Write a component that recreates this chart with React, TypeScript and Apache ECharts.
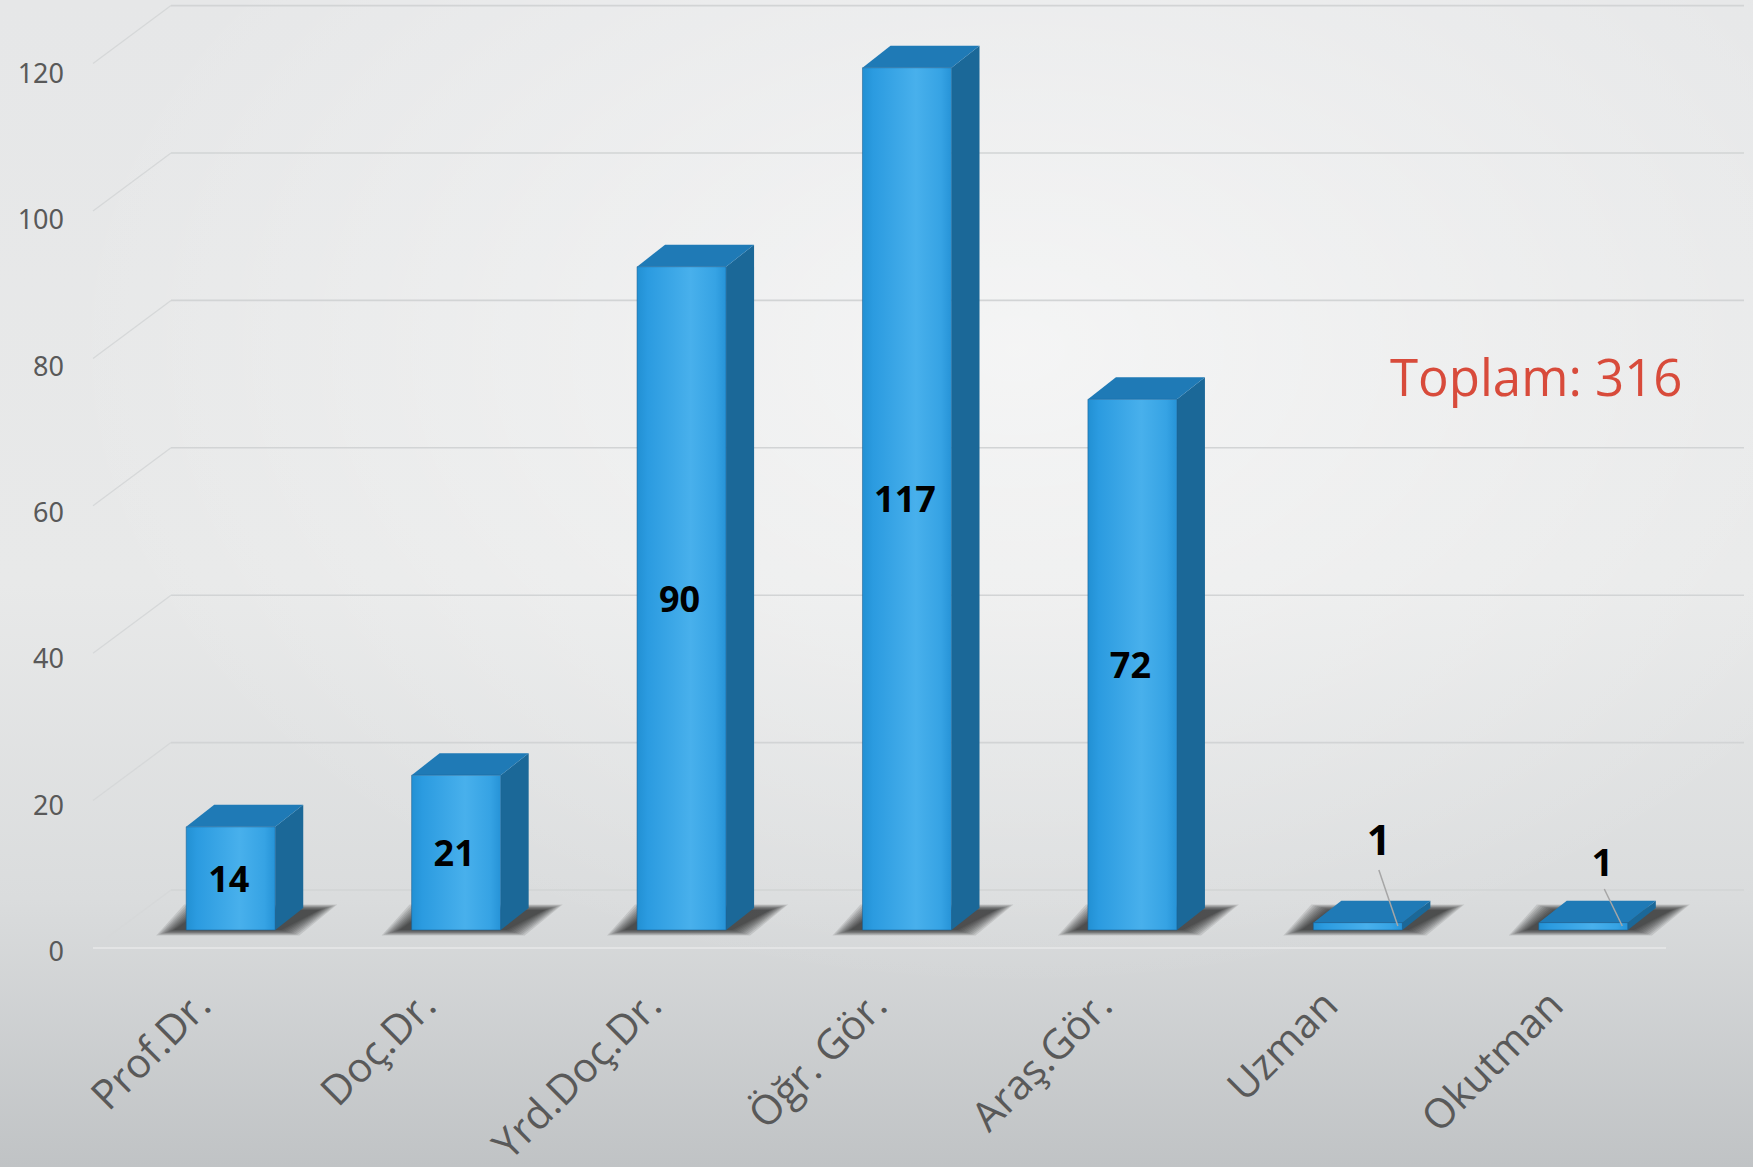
import React, { useEffect, useRef } from "react";
import * as echarts from "echarts";

const categories = ["Prof.Dr.", "Doç.Dr.", "Yrd.Doç.Dr.", "Öğr. Gör.", "Araş.Gör.", "Uzman", "Okutman"];
const values = [14, 21, 90, 117, 72, 1, 1];
const yTicks = [0, 20, 40, 60, 80, 100, 120];
const totalText = `Toplam: ${values.reduce((a, b) => a + b, 0)}`;

// styling for labels of very small bars (moved above with a leader line)
const leaderLabels: Record<string, { dx: number; dy: number; from: [number, number]; to: [number, number]; size: number }> = {
  Uzman: { dx: 21, dy: -92, from: [21, -60], to: [40, -4], size: 42 },
  Okutman: { dx: 19, dy: -69, from: [21, -41], to: [39, -4], size: 38 },
};

const DX = 28;
const DY = 22;

function renderBar(params: any, api: any) {
  const i = params.dataIndex;
  const v = api.value(1);
  const top = api.coord([i, v]);
  const base = api.coord([i, 0]);
  const band = api.size([1, 0])[0];
  const w = band * 0.395;
  const cx = base[0];
  const x0 = cx - w / 2;
  const x1 = cx + w / 2;
  const yb = base[1];
  const yt = top[1];
  const children: any[] = [];
  for (let k = 9; k >= 0; k--) {
    const e = k * 2;
    const ev = e * 0.3;
    children.push({
      type: "polygon",
      silent: true,
      shape: {
        points: [
          [x0 - 12 - e, yb + ev],
          [x1 + 6 + e, yb + ev],
          [x1 + DX + 16 + e, yb - DY + 2 - ev],
          [x0 + DX - 12 - e, yb - DY + 2 - ev],
        ],
      },
      style: { fill: "rgba(20,20,20,0.11)" },
    });
  }
  children.push({
    type: "polygon",
    shape: { points: [[x1, yt], [x1 + DX, yt - DY], [x1 + DX, yb - DY], [x1, yb]] },
    style: { fill: "#1b6898" },
  });
  children.push({
    type: "polygon",
    shape: { points: [[x0, yt], [x1, yt], [x1 + DX, yt - DY], [x0 + DX, yt - DY]] },
    style: { fill: "#1f7ab6" },
  });
  children.push({
    type: "rect",
    shape: { x: x0, y: yt, width: w, height: yb - yt },
    style: {
      fill: new echarts.graphic.LinearGradient(0, 0, 1, 0, [
        { offset: 0, color: "#2290d3" },
        { offset: 0.12, color: "#2b9be0" },
        { offset: 0.6, color: "#48b0ec" },
        { offset: 0.88, color: "#36a3e4" },
        { offset: 1, color: "#2693d7" },
      ]),
      stroke: "rgba(25,95,145,0.55)",
      lineWidth: 1,
    },
  });
  const name = categories[i];
  const ll = leaderLabels[name];
  if (ll) {
    children.push({
      type: "line",
      shape: { x1: cx + ll.from[0], y1: yb + ll.from[1], x2: cx + ll.to[0], y2: yb + ll.to[1] },
      style: { stroke: "#a6a6a6", lineWidth: 1.5 },
    });
    children.push({
      type: "text",
      style: {
        text: String(v),
        x: cx + ll.dx,
        y: yb + ll.dy,
        fill: "#000",
        font: `bold ${ll.size}px "Open Sans"`,
        textAlign: "center",
        textVerticalAlign: "middle",
      },
    });
  } else {
    children.push({
      type: "text",
      style: {
        text: String(v),
        x: cx - 2,
        y: (yt + yb) / 2,
        fill: "#000",
        font: 'bold 36px "Open Sans"',
        textAlign: "center",
        textVerticalAlign: "middle",
      },
    });
  }
  return { type: "group", children };
}

function renderFrame(params: any, api: any) {
  const v = api.value(1);
  const p = api.coord([0, v]);
  const cs = params.coordSys;
  const gx = cs.x;
  const gr = cs.x + cs.width;
  const y = p[1];
  const children: any[] = [
    {
      type: "line",
      shape: { x1: gx + 53, y1: y - 40, x2: gr + 48, y2: y - 40 },
      style: { stroke: "#d2d4d5", lineWidth: 1.6 },
    },
    {
      type: "line",
      shape: { x1: gx - 25, y1: y + 18, x2: gx + 53, y2: y - 40 },
      style: { stroke: "#d6d8d9", lineWidth: 1.3 },
    },
  ];
  if (v === 0) {
    children.push({
      type: "line",
      shape: { x1: gx - 25, y1: y + 18, x2: gr - 30, y2: y + 18 },
      style: { stroke: "#e3e4e5", lineWidth: 2 },
    });
  }
  return { type: "group", children };
}

export default function App() {
  const ref = useRef<HTMLDivElement>(null);
  useEffect(() => {
    document.body.style.margin = "0";
    const chart = echarts.init(ref.current!, null, { renderer: "svg" });
    const option: any = {
      animation: false,
      backgroundColor: new echarts.graphic.LinearGradient(0, 0, 0, 1, [
        { offset: 0, color: "#e6e7e8" },
        { offset: 0.5, color: "#e8e9e9" },
        { offset: 0.77, color: "#dadcdd" },
        { offset: 1, color: "#c0c3c5" },
      ]),
      graphic: [
        {
          type: "rect",
          z: -10,
          silent: true,
          shape: { x: 0, y: 0, width: 1753, height: 1167 },
          style: {
            fill: new echarts.graphic.RadialGradient(0.58, 0.3, 0.55, [
              { offset: 0, color: "rgba(255,255,255,0.55)" },
              { offset: 1, color: "rgba(255,255,255,0)" },
            ]),
          },
        },
        {
          type: "text",
          z: 10,
          style: {
            text: totalText,
            x: 1390,
            y: 376,
            fill: "#d84b3b",
            font: '51px "Open Sans"',
            textAlign: "left",
            textVerticalAlign: "middle",
          },
        },
      ],
      grid: [
        { left: 118, right: 57, top: 45.6, bottom: 237 },
        { left: 89, right: 86, top: 72.6, bottom: 210 },
      ],
      xAxis: [
        {
          gridIndex: 0,
          type: "category",
          data: categories,
          axisLine: { show: false },
          axisTick: { show: false },
          axisLabel: { show: false },
          splitLine: { show: false },
        },
        {
          gridIndex: 1,
          type: "category",
          data: categories,
          axisLine: { show: false },
          axisTick: { show: false },
          splitLine: { show: false },
          axisLabel: {
            interval: 0,
            rotate: 45,
            margin: 46,
            color: "#595959",
            fontSize: 41,
            fontFamily: "Open Sans",
          },
        },
      ],
      yAxis: [
        {
          gridIndex: 0,
          type: "value",
          min: 0,
          max: 120,
          interval: 20,
          axisLine: { show: false },
          axisTick: { show: false },
          axisLabel: { show: false },
          splitLine: { show: false },
        },
        {
          gridIndex: 1,
          type: "value",
          min: 0,
          max: 120,
          interval: 20,
          axisLine: { show: false },
          axisTick: { show: false },
          splitLine: { show: false },
          axisLabel: {
            margin: 25,
            color: "#595959",
            fontSize: 27,
            fontFamily: "Noto Sans",
            formatter: (val: number) => (yTicks.includes(val) ? String(val) : ""),
          },
        },
      ],
      series: [
        {
          type: "custom",
          xAxisIndex: 0,
          yAxisIndex: 0,
          z: 1,
          silent: true,
          renderItem: renderFrame,
          data: yTicks.map((t) => [0, t]),
        },
        {
          type: "custom",
          xAxisIndex: 0,
          yAxisIndex: 0,
          z: 3,
          renderItem: renderBar,
          data: values.map((v, i) => [i, v]),
        },
      ],
    };
    chart.setOption(option);
    return () => chart.dispose();
  }, []);
  return <div ref={ref} style={{ width: 1753, height: 1167, position: "absolute", left: 0, top: 0 }} />;
}
